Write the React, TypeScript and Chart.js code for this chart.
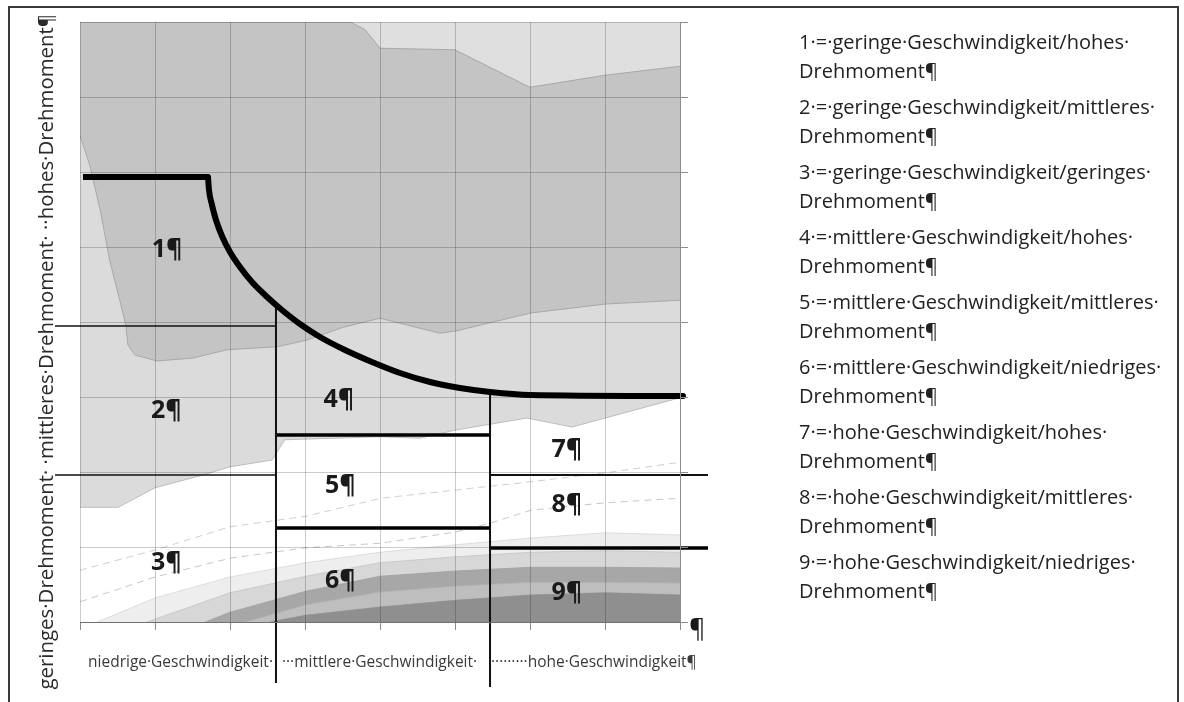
import React, { useEffect, useRef } from "react";
import { Chart, registerables } from "chart.js";
Chart.register(...registerables);

type P = [number, number];

// x: Geschwindigkeit (0..8 grid units), y: Drehmoment (0..8 grid units)
const X_TICKS_MIN = 0;
const X_TICKS_MAX = 8;
const Y_TICKS_MIN = 0;
const Y_TICKS_MAX = 8;

// contour band boundaries (top edge of each band)
const bandTopLight: P[] = [[0, 8], [8, 8]];
const bandMedium: P[] = [[0, 8], [3.6, 8], [3.8, 7.9], [4, 7.65], [5, 7.63], [6, 7.13], [7, 7.29], [8, 7.41]];
const bandLight: P[] = [[0, 6.49], [0.13, 6.09], [0.27, 5.49], [0.4, 4.8], [0.53, 4.29], [0.61, 3.96], [0.64, 3.69], [0.73, 3.56], [1.03, 3.48], [1.51, 3.52], [1.96, 3.63], [2.63, 3.67], [3.03, 3.76], [3.51, 3.93], [4, 4.05], [4.8, 3.85], [5.01, 3.88], [6.01, 4.12], [7.01, 4.24], [8, 4.29]];
const bandWhite: P[] = [[0, 1.53], [0.51, 1.53], [1, 1.79], [1.64, 1.96], [2, 2.07], [2.56, 2.16], [2.73, 2.43], [4, 2.47], [4.53, 2.45], [5.01, 2.56], [5.96, 2.72], [6.56, 2.6], [8, 2.99]];
const bandE: P[] = [[0.23, 0], [1, 0.32], [2, 0.6], [3.01, 0.79], [4, 0.93], [5.01, 1.03], [6.01, 1.12], [7.01, 1.19], [8, 1.16]];
const bandF: P[] = [[0.89, 0], [2, 0.39], [3.01, 0.61], [4, 0.79], [5.01, 0.87], [6.01, 0.93], [7.01, 0.95], [8, 0.93]];
const bandG: P[] = [[1.67, 0], [2, 0.13], [3.01, 0.41], [4, 0.61], [5.01, 0.68], [6.01, 0.73], [7.01, 0.73], [8, 0.72]];
const bandH: P[] = [[2.2, 0], [3.01, 0.23], [4, 0.4], [5.01, 0.48], [6.01, 0.53], [7.01, 0.53], [8, 0.52]];
const bandI: P[] = [[2.53, 0], [3.01, 0.09], [4, 0.2], [5.01, 0.29], [6.01, 0.36], [7.01, 0.39], [8, 0.36]];
const contourA: P[] = [[0, 0.69], [1, 0.96], [2, 1.27], [3.01, 1.41], [4.01, 1.65], [5.01, 1.76], [6.01, 1.87], [7.01, 1.99], [8, 2.13]];
const contourB: P[] = [[0, 0.27], [1, 0.6], [2, 0.85], [3.01, 0.99], [4.01, 1.05], [5.01, 1.2], [5.51, 1.33], [6.01, 1.49], [7.01, 1.59], [8, 1.65]];

// drawn limit curve and region separators
const limitFlat: P[] = [[0.04, 5.933], [1.707, 5.933]];
const limitCurve: P[] = [[1.707, 5.933], [1.72, 5.76], [1.76, 5.56], [1.813, 5.36], [1.893, 5.147], [2.0, 4.933], [2.133, 4.733], [2.293, 4.533], [2.48, 4.347], [2.693, 4.16], [2.933, 3.973], [3.2, 3.8], [3.533, 3.627], [3.893, 3.467], [4.267, 3.32], [4.667, 3.2], [5.067, 3.12], [5.467, 3.067], [6.0, 3.027], [8.04, 3.013]];
const sepH1: P[] = [[-0.333, 3.947], [2.613, 3.947]];
const sepH2: P[] = [[-0.333, 1.96], [2.613, 1.96]];
const sepV1: P[] = [[2.613, 4.24], [2.613, -0.813]];
const sepH3: P[] = [[2.613, 2.493], [5.467, 2.493]];
const sepH4: P[] = [[2.613, 1.253], [5.467, 1.253]];
const sepV2: P[] = [[5.467, 3.08], [5.467, -0.867]];
const sepH5: P[] = [[5.467, 1.96], [8.373, 1.96]];
const sepH6: P[] = [[5.467, 0.987], [8.373, 0.987]];

const regionLabels = ["1¶", "2¶", "3¶", "4¶", "5¶", "6¶", "7¶", "8¶", "9¶"];
const regionX = [1.16, 1.15, 1.15, 3.45, 3.47, 3.47, 6.49, 6.49, 6.49];
const regionY = [4.87, 2.72, 0.69, 2.87, 1.72, 0.45, 2.2, 1.47, 0.29];

const speedLabels = ["niedrige·Geschwindigkeit·", "···mittlere·Geschwindigkeit·", "·········hohe·Geschwindigkeit¶"];
const speedLabelX = [0.107, 2.693, 5.48];
const speedLabelY = -0.6;

const torqueTitle = "geringes·Drehmoment· ·mittleres·Drehmoment· ··hohes·Drehmoment¶";
const torqueTitleX = -0.36;
const torqueTitleY = -0.9;

const legendLines: [string, string][] = [
  ["1·=·geringe·Geschwindigkeit/hohes·", "Drehmoment¶"],
  ["2·=·geringe·Geschwindigkeit/mittleres·", "Drehmoment¶"],
  ["3·=·geringe·Geschwindigkeit/geringes·", "Drehmoment¶"],
  ["4·=·mittlere·Geschwindigkeit/hohes·", "Drehmoment¶"],
  ["5·=·mittlere·Geschwindigkeit/mittleres·", "Drehmoment¶"],
  ["6·=·mittlere·Geschwindigkeit/niedriges·", "Drehmoment¶"],
  ["7·=·hohe·Geschwindigkeit/hohes·", "Drehmoment¶"],
  ["8·=·hohe·Geschwindigkeit/mittleres·", "Drehmoment¶"],
  ["9·=·hohe·Geschwindigkeit/niedriges·", "Drehmoment¶"],
];

const toXY = (pts: P[]) => pts.map(([x, y]) => ({ x, y }));

function area(label: string, pts: P[], color: string, border: string, bw: number, order: number) {
  return {
    type: "line" as const,
    label,
    data: toXY(pts),
    fill: "start",
    backgroundColor: color,
    borderColor: border,
    borderWidth: bw,
    pointRadius: 0,
    tension: 0,
    order,
  };
}

function stroke(label: string, pts: P[], color: string, w: number, order: number, extra: any = {}) {
  return {
    type: "line" as const,
    label,
    data: toXY(pts),
    fill: false,
    borderColor: color,
    borderWidth: w,
    pointRadius: 0,
    tension: 0,
    clip: false,
    borderCapStyle: "butt",
    order,
    ...extra,
  };
}

const textPlugin = {
  id: "wordText",
  afterDraw(chart: any) {
    const { ctx } = chart;
    const xs = chart.scales.x;
    const ys = chart.scales.y;
    ctx.save();
    ctx.textBaseline = "alphabetic";
    ctx.font = 'bold 25px "Open Sans"';
    ctx.fillStyle = "#1a1a1a";
    ctx.textAlign = "center";
    regionLabels.forEach((t, i) => {
      ctx.fillText(t, xs.getPixelForValue(regionX[i]), ys.getPixelForValue(regionY[i]));
    });
    ctx.font = '15.5px "Open Sans"';
    ctx.fillStyle = "#3a3a3a";
    ctx.textAlign = "left";
    speedLabels.forEach((t, i) => {
      ctx.fillText(t, xs.getPixelForValue(speedLabelX[i]), ys.getPixelForValue(speedLabelY));
    });
    ctx.font = '25px "Open Sans"';
    ctx.fillStyle = "#1a1a1a";
    ctx.fillText("¶", xs.getPixelForValue(8.12), ys.getPixelForValue(-0.2));
    ctx.save();
    ctx.translate(xs.getPixelForValue(torqueTitleX), ys.getPixelForValue(torqueTitleY));
    ctx.rotate(-Math.PI / 2);
    ctx.font = '20.4px "Open Sans"';
    ctx.fillStyle = "#2a2a2a";
    ctx.textAlign = "left";
    ctx.fillText(torqueTitle, 0, 0);
    ctx.restore();
    ctx.restore();
  },
};

export default function App() {
  const ref = useRef<HTMLCanvasElement | null>(null);
  useEffect(() => {
    let chart: Chart | null = null;
    let cancelled = false;
    const make = () => {
      if (cancelled || !ref.current) return;
      const gridCommon = {
        color: "rgba(0,0,0,0.2)",
        tickColor: "#8c8c8c",
        tickLength: 8,
        drawTicks: true,
        lineWidth: 1,
        z: 1,
      };
      chart = new Chart(ref.current, {
        type: "line",
        data: {
          datasets: [
            area("oben", bandTopLight, "#dfdfdf", "#dfdfdf", 0, 100),
            area("mittel", bandMedium, "#c4c4c4", "#a8a8a8", 1, 90),
            area("hell", bandLight, "#dbdbdb", "#a8a8a8", 1, 80),
            area("weiß", bandWhite, "#ffffff", "#bdbdbd", 1, 70),
            area("E", bandE, "#eeeeee", "#d6d6d6", 0.8, 60),
            area("F", bandF, "#d7d7d7", "#c4c4c4", 0.8, 50),
            area("G", bandG, "#a7a7a7", "#a0a0a0", 0.8, 40),
            area("H", bandH, "#bebebe", "#b0b0b0", 0.8, 30),
            area("I", bandI, "#8f8f8f", "#8f8f8f", 0.8, 20),
            stroke("kA", contourA, "#cfcfcf", 1, 15, { borderDash: [7, 5] }),
            stroke("kB", contourB, "#c8c8c8", 1, 14, { borderDash: [7, 5] }),
            stroke("grenzeFlach", limitFlat, "#000", 6, 1),
            stroke("grenzeKurve", limitCurve, "#000", 6, 0, { cubicInterpolationMode: "monotone", borderCapStyle: "round" }),
            stroke("h1", sepH1, "#111", 1.5, 2),
            stroke("h2", sepH2, "#111", 1.5, 2),
            stroke("v1", sepV1, "#111", 2, 2),
            stroke("h3", sepH3, "#000", 3.5, 2),
            stroke("h4", sepH4, "#000", 3.5, 2),
            stroke("v2", sepV2, "#111", 2, 2),
            stroke("h5", sepH5, "#111", 2, 2),
            stroke("h6", sepH6, "#000", 3.5, 2),
          ] as any,
        },
        options: {
          responsive: false,
          animation: false,
          events: [],
          layout: { padding: { left: 80, top: 22, right: 496, bottom: 72 } },
          plugins: {
            legend: { display: false },
            tooltip: { enabled: false },
            title: { display: false },
          },
          scales: {
            x: {
              type: "linear",
              min: X_TICKS_MIN,
              max: X_TICKS_MAX,
              position: "bottom",
              ticks: { stepSize: 1, display: false },
              grid: gridCommon,
              border: { display: true, color: "#8c8c8c", z: 1 },
              afterFit: (s: any) => {
                s.height = 8;
              },
            },
            y: {
              type: "linear",
              min: Y_TICKS_MIN,
              max: Y_TICKS_MAX,
              position: "right",
              ticks: { stepSize: 1, display: false },
              grid: gridCommon,
              border: { display: true, color: "#8c8c8c", z: 1 },
              afterFit: (s: any) => {
                s.width = 8;
              },
            },
          },
        } as any,
        plugins: [textPlugin],
      });
    };
    const fontsReady = (document as any).fonts
      ? Promise.all([
          (document as any).fonts.load('20px "Open Sans"'),
          (document as any).fonts.load('bold 25px "Open Sans"'),
        ]).catch(() => null)
      : Promise.resolve(null);
    fontsReady.then(make);
    return () => {
      cancelled = true;
      if (chart) chart.destroy();
    };
  }, []);

  return (
    <div style={{ position: "absolute", left: 0, top: 0, width: 1184, height: 702, overflow: "hidden", background: "#fff" }}>
      <div
        style={{
          position: "absolute",
          left: 8,
          top: 6,
          width: 1171,
          height: 696,
          boxSizing: "border-box",
          borderTop: "2px solid #3a3a3a",
          borderLeft: "2px solid #3a3a3a",
          borderRight: "2px solid #3a3a3a",
        }}
      />
      <canvas ref={ref} width={1184} height={702} style={{ position: "absolute", left: 0, top: 0, width: 1184, height: 702 }} />
      {legendLines.map((l, k) => (
        <div
          key={k}
          style={{
            position: "absolute",
            left: 799,
            top: 27 + 65 * k,
            font: '20px "Open Sans"',
            lineHeight: "29px",
            color: "#222",
            whiteSpace: "pre",
          }}
        >
          {l[0]}
          <br />
          {l[1]}
        </div>
      ))}
    </div>
  );
}
